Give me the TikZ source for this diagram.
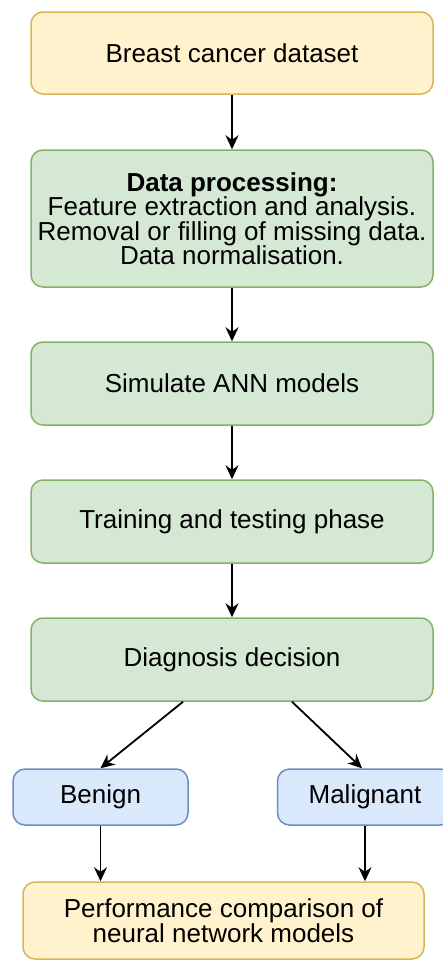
\documentclass[tikz,border=0pt]{standalone}
\usepackage{fontspec}
\setmainfont{Liberation Sans}
\usepackage{xcolor}
\usetikzlibrary{arrows.meta}

\definecolor{yelfill}{HTML}{FFF2CC}
\definecolor{yeldraw}{HTML}{D6B656}
\definecolor{grnfill}{HTML}{D5E8D4}
\definecolor{grndraw}{HTML}{82B366}
\definecolor{blufill}{HTML}{DAE8FC}
\definecolor{bludraw}{HTML}{6C8EBF}

\begin{document}
\begin{tikzpicture}[x=0.5pt, y=-0.5pt,
        box/.style={rounded corners=6pt, line width=0.75pt, align=center,
            font=\fontsize{13}{12.25}\selectfont, inner sep=0pt},
        yelbox/.style={box, fill=yelfill, draw=yeldraw},
        grnbox/.style={box, fill=grnfill, draw=grndraw, minimum width=201pt, minimum height=41.5pt},
        blubox/.style={box, fill=blufill, draw=bludraw, minimum width=87.5pt, minimum height=28pt},
        arr/.style={-{Stealth[length=7pt, width=6.5pt]}, line width=0.9pt}]
        \useasboundingbox (0, 0) rectangle (443, 960);

        \node [yelbox, minimum width=201pt, minimum height=41pt] (dataset) at (232, 53) {Breast cancer dataset};
        \node [grnbox, minimum height=68.5pt] (process) at (232, 218.5)
            {\textbf{Data processing:}\\ Feature extraction and analysis.\\
             Removal or filling of missing data.\\ Data normalisation.};
        \node [grnbox] (simulate) at (232, 383.5) {Simulate ANN models};
        \node [grnbox] (training) at (232, 521.5) {Training and testing phase};
        \node [grnbox] (diagnosis) at (232, 659.5) {Diagnosis decision};
        \node [blubox] (benign) at (100.5, 797) {Benign};
        \node [blubox] (malignant) at (365, 797) {Malignant};
        \node [yelbox, minimum width=200.5pt, minimum height=38.5pt] (perf) at (223.5, 920.5)
            {Performance comparison of\\ neural network models};

        % main chain
        \draw [arr] (dataset) -- (process);
        \draw [arr] (process) -- (simulate);
        \draw [arr] (simulate) -- (training);
        \draw [arr] (training) -- (diagnosis);
        % branches
        \draw [arr] ([xshift=-24.5pt]diagnosis.south) -- (benign.north);
        \draw [arr] ([xshift=30pt]diagnosis.south) -- ([xshift=-1.5pt]malignant.north);
        \draw [arr] (benign.south) -- (benign.south |- perf.north);
        \draw [arr] (malignant.south) -- (malignant.south |- perf.north);
\end{tikzpicture}
\end{document}
